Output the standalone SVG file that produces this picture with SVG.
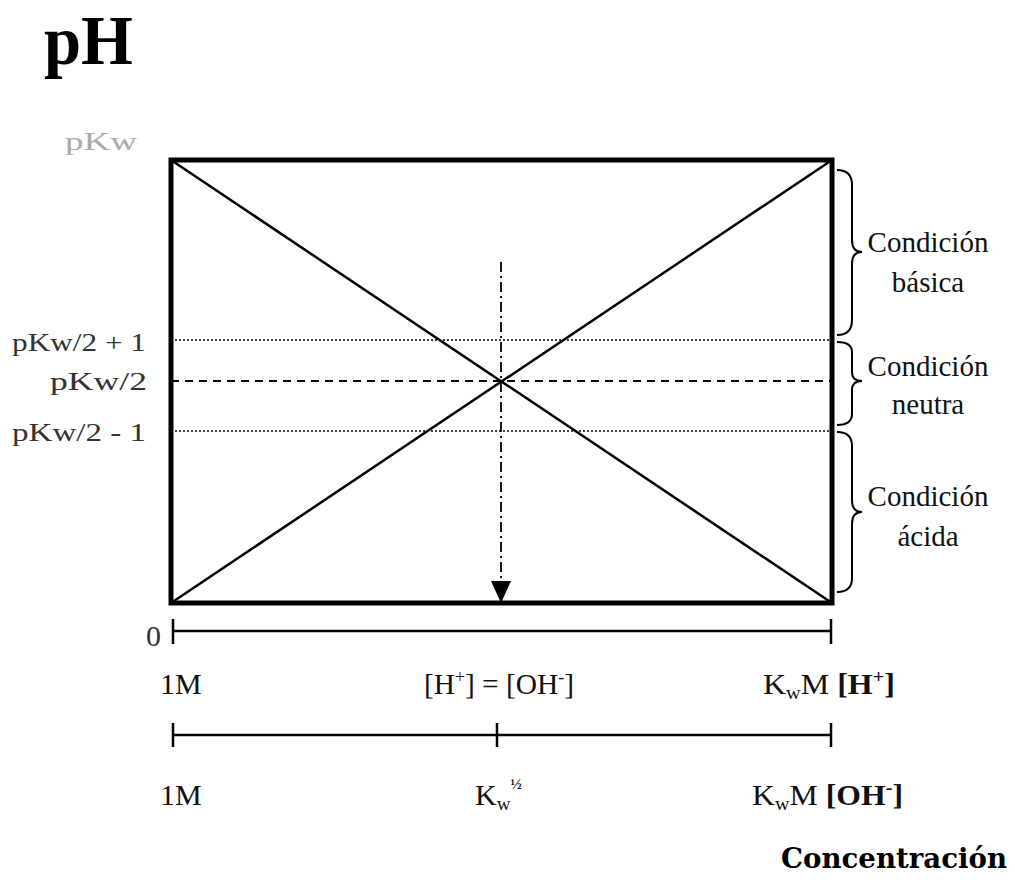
<svg xmlns="http://www.w3.org/2000/svg" width="1015" height="882" viewBox="0 0 1015 882">
<style>
.t{font-family:"Liberation Serif","Times New Roman",serif;font-size:30px;fill:#111}
.c{font-family:"Liberation Serif","Times New Roman",serif;font-size:29px;fill:#111}
.lbl{font-family:"Liberation Serif","Times New Roman",serif;font-size:25px;fill:#333}
.ax{stroke:#000;stroke-width:2.5;fill:none}
.brace{stroke:#000;stroke-width:2;fill:none}
</style>
<rect width="1015" height="882" fill="#fff"/>
<g id="title"><text x="44" y="64" font-family="Liberation Serif,serif" font-weight="bold" font-size="70" textLength="89" lengthAdjust="spacingAndGlyphs" fill="#000">pH</text></g>
<g id="frame">
<rect x="171" y="160" width="661" height="443" fill="none" stroke="#000" stroke-width="5"/>
</g>
<g id="connectors">
<line x1="171" y1="160" x2="832" y2="603" stroke="#000" stroke-width="2.5"/>
<line x1="171" y1="603" x2="832" y2="160" stroke="#000" stroke-width="2.5"/>
<line x1="171" y1="340" x2="832" y2="340" stroke="#000" stroke-width="1.5" stroke-dasharray="2,2"/>
<line x1="171" y1="431" x2="832" y2="431" stroke="#000" stroke-width="1.5" stroke-dasharray="2,2"/>
<line x1="171" y1="381" x2="832" y2="381" stroke="#000" stroke-width="2" stroke-dasharray="8,6"/>
<line x1="501" y1="262" x2="501" y2="582" stroke="#000" stroke-width="1.8" stroke-dasharray="10,4,2,4"/>
<path d="M491,581 L511,581 L501,603 Z" fill="#000"/>
</g>
<g id="ylabels">
<text class="lbl" x="65" y="150" textLength="72" lengthAdjust="spacingAndGlyphs" style="fill:#aaa">pKw</text>
<text class="lbl" x="12" y="351" textLength="134" lengthAdjust="spacingAndGlyphs">pKw/2 + 1</text>
<text class="lbl" x="50" y="390" textLength="97" lengthAdjust="spacingAndGlyphs">pKw/2</text>
<text class="lbl" x="12" y="441" textLength="134" lengthAdjust="spacingAndGlyphs">pKw/2 - 1</text>
</g>
<g id="braces">
<path class="brace" d="M837,170 Q852,170 852,185 L852,240 Q852,252 862,252 Q852,252 852,264 L852,320 Q852,335 837,335"/>
<path class="brace" d="M837,342 Q852,342 852,352 L852,372 Q852,381 862,381 Q852,381 852,390 L852,414 Q852,425 837,425"/>
<path class="brace" d="M837,432 Q852,432 852,446 L852,500 Q852,512 862,512 Q852,512 852,524 L852,578 Q852,592 837,592"/>
</g>
<g id="cond-basica"><text class="c" x="928" y="252" text-anchor="middle">Condición</text><text class="c" x="928" y="292" text-anchor="middle">básica</text></g>
<g id="cond-neutra"><text class="c" x="928" y="376" text-anchor="middle">Condición</text><text class="c" x="928" y="414" text-anchor="middle">neutra</text></g>
<g id="cond-acida"><text class="c" x="928" y="506" text-anchor="middle">Condición</text><text class="c" x="928" y="546" text-anchor="middle">ácida</text></g>
<g id="axis-h">
<text class="t" x="146" y="646" style="fill:#333">0</text>
<line class="ax" x1="173" y1="631" x2="831" y2="631"/>
<line class="ax" x1="173" y1="619" x2="173" y2="644"/>
<line class="ax" x1="831" y1="619" x2="831" y2="644"/>
<text class="t" x="160" y="694">1M</text>
<text class="t" x="424" y="694" textLength="150" lengthAdjust="spacingAndGlyphs">[H<tspan dy="-11" font-size="18">+</tspan><tspan dy="11">] = [OH</tspan><tspan dy="-11" font-size="18">-</tspan><tspan dy="11">]</tspan></text>
<text class="t" x="763" y="694" textLength="132" lengthAdjust="spacingAndGlyphs">K<tspan dy="5" font-size="19">w</tspan><tspan dy="-5">M </tspan><tspan font-weight="bold">[H</tspan><tspan dy="-11" font-size="19" font-weight="bold">+</tspan><tspan dy="11" font-weight="bold">]</tspan></text>
</g>
<g id="axis-oh">
<line class="ax" x1="173" y1="735" x2="831" y2="735"/>
<line class="ax" x1="173" y1="723" x2="173" y2="747"/>
<line class="ax" x1="497" y1="723" x2="497" y2="747"/>
<line class="ax" x1="831" y1="723" x2="831" y2="747"/>
<text class="t" x="160" y="805">1M</text>
<text class="t" x="475" y="805">K<tspan dy="5" font-size="19">w</tspan><tspan dy="-21" font-size="15" font-weight="bold">½</tspan></text>
<text class="t" x="752" y="805" textLength="151" lengthAdjust="spacingAndGlyphs">K<tspan dy="5" font-size="19">w</tspan><tspan dy="-5">M </tspan><tspan font-weight="bold">[OH</tspan><tspan dy="-11" font-size="19" font-weight="bold">-</tspan><tspan dy="11" font-weight="bold">]</tspan></text>
</g>
<g id="xlabel"><text x="781" y="868" font-family="DejaVu Serif,serif" font-weight="bold" font-size="28" textLength="226" lengthAdjust="spacingAndGlyphs" fill="#000">Concentración</text></g>
</svg>
